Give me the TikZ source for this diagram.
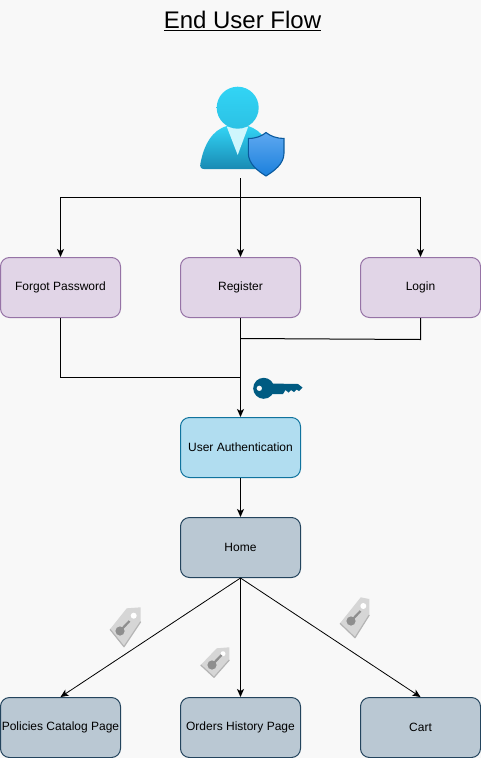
\documentclass[tikz,border=0pt]{standalone}
\usepackage{fontspec}
\setmainfont{Liberation Sans}
\usetikzlibrary{arrows.meta}
\definecolor{bgc}{HTML}{F8F8F8}
\definecolor{purfill}{HTML}{E1D5E7}
\definecolor{purline}{HTML}{9673A6}
\definecolor{blufill}{HTML}{B1DDF0}
\definecolor{bluline}{HTML}{10739E}
\definecolor{grafill}{HTML}{BAC8D3}
\definecolor{graline}{HTML}{23445D}
\definecolor{keyc}{HTML}{005B82}
\definecolor{tagc}{HTML}{D6D6D6}
\definecolor{tagd}{HTML}{B4B4B4}
\definecolor{tagk}{HTML}{8E8E8E}
\definecolor{bodytop}{HTML}{32D4F5}
\definecolor{bodybot}{HTML}{198AB3}
\definecolor{neckc}{HTML}{CFF6FD}
\definecolor{shieldtop}{HTML}{5EA8F0}
\definecolor{shieldbot}{HTML}{1B80DC}
\definecolor{shieldline}{HTML}{0A5A9E}
\tikzset{
  flowbox/.style={draw,rounded corners=9pt,minimum width=120pt,minimum height=60pt,inner sep=0pt,line width=1pt,font=\fontsize{12}{14}\selectfont,text=black},
  purbox/.style={flowbox,fill=purfill,draw=purline},
  blubox/.style={flowbox,fill=blufill,draw=bluline},
  grabox/.style={flowbox,fill=grafill,draw=graline},
  link/.style={draw=black,line width=1pt,-{Stealth[length=8pt,width=7pt,inset=2pt]}},
  plainlink/.style={draw=black,line width=1pt},
  thinlink/.style={draw=black,line width=0.8pt,-{Stealth[length=8pt,width=7pt,inset=2pt]}},
}
\newcommand{\tagicon}[8]{%
  \fill[tagc] #1 -- #2 -- #3 -- #4 -- #5 -- cycle;
  \draw[tagd,line width=1.2pt,line join=round] #3 -- #4 -- #5;
  \fill[white] #6 circle (#8);
  \begin{scope}[shift={#7}]
    \fill[tagk] (0,0) circle (4.6pt);
    \draw[tagk,line width=2.2pt] (0,0) -- (9.5,-10);
  \end{scope}
}
\begin{document}
\begin{tikzpicture}[x=1pt,y=-1pt]
\useasboundingbox (0,0) rectangle (481,758);
\fill[bgc] (0,0) rectangle (481,758);

\node[font=\fontsize{24}{28}\selectfont,text=black,inner sep=0pt] (title) at (242.5,21) {\underline{End User Flow}};

% user icon
\shade[top color=bodytop,bottom color=bodybot]
  (204,169) .. controls (201,169) and (199.5,167) .. (200.5,163) .. controls (204,145) and (212,130) .. (227,126) -- (248,126) .. controls (262,130) and (272,145) .. (275,163) .. controls (275.5,167) and (274,169) .. (271,169) -- cycle;
\fill[neckc] (226.7,126.5) -- (248.3,126.5) -- (237.7,155) -- cycle;
\shade[top color=bodytop,bottom color=bodytop!75!bodybot] (237.7,107.7) circle (21);
\shade[top color=shieldtop,bottom color=shieldbot,draw=shieldline,line width=1.1pt]
  (248.3,138.5) .. controls (256,138.5) and (262,136) .. (266,132.5) .. controls (270,136) and (277,138.5) .. (284,138.5) -- (284,153) .. controls (284,164) and (274,171) .. (266,176) .. controls (258,171) and (248.3,164) .. (248.3,153) -- cycle;
\coordinate (userout) at (240.5,178);
\coordinate (toprail) at (240.5,197.5);
\coordinate (midjoin) at (240.5,377.5);
\coordinate (loginjoin) at (240.5,338.5);
\coordinate (loginbend) at (420.5,339.5);

% key
\fill[keyc,even odd rule] (263.7,388.3) circle (10.5) (259.3,388.3) circle (2.8);
\fill[keyc] (270,383.5) -- (298,384) -- (302.5,387.5) -- (299,391) -- (296.5,389.5) -- (294,392) -- (291,390) -- (288.5,392.5) -- (285.5,390) -- (283,394) -- (270,394) -- cycle;

% tags
\tagicon{(140.7,607.3)}{(126.7,608.3)}{(110,629.3)}{(124,646.7)}{(140.7,621.7)}{(133.7,615.7)}{(120,631)}{3pt}
\tagicon{(229.3,647.3)}{(216.7,648.3)}{(200.7,665)}{(214,677.3)}{(229.3,660)}{(223,653.7)}{(212,665)}{2.5pt}
\tagicon{(369.3,599)}{(360.7,597.3)}{(340,623.3)}{(355,637.7)}{(369.3,615)}{(363.3,606)}{(351,621)}{3pt}

% nodes
\node[purbox] (forgot) at (60.5,287.5) {Forgot Password};
\node[purbox] (register) at (240.5,287.5) {Register};
\node[purbox] (login) at (420.5,287.5) {Login};
\node[blubox] (auth) at (240.5,447.5) {User Authentication};
\node[grabox] (home) at (240.5,547.5) {Home};
\node[grabox] (policies) at (60.5,727.5) {Policies Catalog Page};
\node[grabox] (orders) at (240.5,727.5) {Orders History Page};
\node[grabox] (cart) at (420.5,727.5) {Cart};

% connectors
\draw[link] (userout) -- (register.north);
\draw[link] (toprail) -| (forgot.north);
\draw[link] (toprail) -| (login.north);
\draw[link] (register.south) -- (auth.north);
\draw[plainlink] (forgot.south) |- (midjoin);
\draw[plainlink] (login.south) -- (loginbend) -- (loginjoin);
\draw[link] (auth.south) -- (home.north);
\draw[thinlink] (home.south) -- (policies.north);
\draw[link] (home.south) -- (orders.north);
\draw[thinlink] (home.south) -- (cart.north);
\end{tikzpicture}
\end{document}
